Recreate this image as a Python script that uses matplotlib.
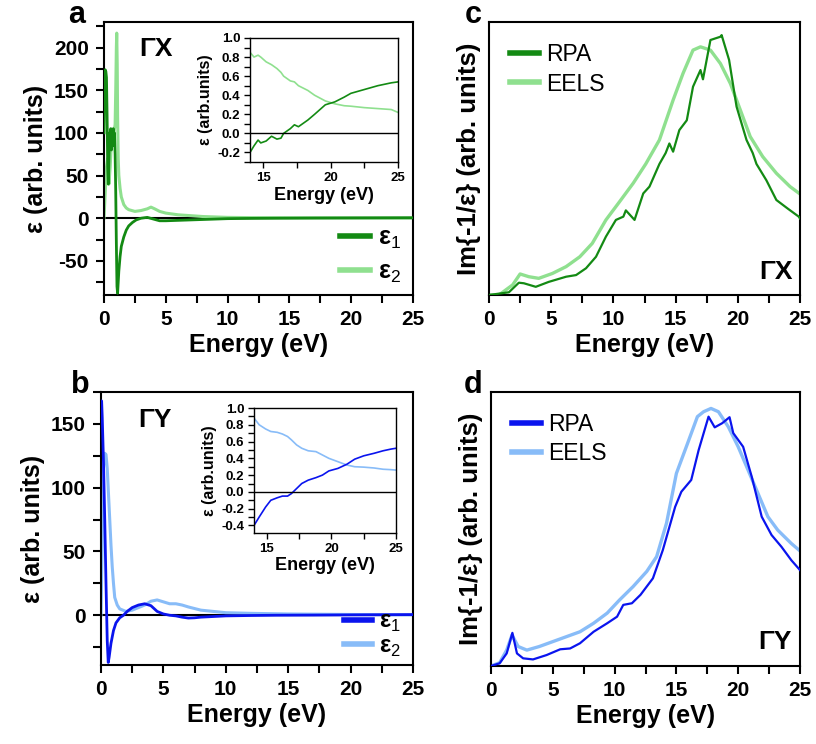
import numpy as np
import matplotlib
matplotlib.use("Agg")
import matplotlib.pyplot as plt
from matplotlib.ticker import MultipleLocator, NullLocator, FormatStrFormatter

plt.rcParams['font.family'] = ['Liberation Sans', 'DejaVu Sans']
plt.rcParams['mathtext.fontset'] = 'custom'
plt.rcParams['mathtext.rm'] = 'Liberation Sans'
plt.rcParams['mathtext.bf'] = 'Liberation Sans:bold'
plt.rcParams['axes.unicode_minus'] = False

# ---------------- data ----------------
# Panel a (Gamma-X) dielectric function
a_e1_x = [0, 0.05, 0.1, 0.15, 0.2, 0.25, 0.3, 0.35, 0.4, 0.45, 0.5, 0.55, 0.6, 0.65, 0.7, 0.75,
          0.8, 0.85, 0.9, 0.95, 1.0, 1.05, 1.1, 1.15, 1.2, 1.3, 1.4, 1.6, 1.8, 2.0, 2.3, 2.6,
          3.0, 3.5, 4.0, 4.5, 5, 6, 7, 8, 9, 10, 12, 14, 17, 20, 25]
a_e1_y = [100, 165, 174, 172, 165, 120, 60, 40, 70, 100, 85, 105, 80, 100, 90, 105,
          85, 100, 75, 30, -30, -80, -88, -75, -62, -45, -33, -22, -14, -9, -5, -2,
          0, 1, -1, -3, -3, -2.5, -2, -1.5, -1, -0.5, -0.2, 0, 0.2, 0.33, 0.54]
a_e2_x = [0, 0.1, 0.2, 0.3, 0.4, 0.5, 0.6, 0.7, 0.8, 0.9, 0.95, 1.0, 1.03, 1.07, 1.1, 1.15,
          1.2, 1.3, 1.4, 1.6, 1.8, 2.0, 2.5, 3.0, 3.5, 3.8, 4.1, 4.5, 5, 6, 7, 8, 10, 12, 15, 20, 25]
a_e2_y = [0, 30, 60, 70, 40, 60, 90, 95, 100, 110, 150, 200, 217, 180, 120, 70,
          50, 35, 25, 16, 12, 10, 8, 9, 11, 13, 11, 8, 6, 4, 3, 2, 1, 0.7, 0.5, 0.35, 0.22]

# inset a
ai_x = [14, 14.3, 14.6, 14.8, 15.2, 15.6, 16.0, 16.3, 16.5, 17.0, 17.3, 17.6, 18.3, 18.8,
        19.6, 20.3, 21.0, 21.5, 22.5, 23.5, 24.5, 25]
ai_e1 = [-0.2, -0.13, -0.07, -0.1, -0.08, -0.03, -0.06, -0.05, 0.0, 0.05, 0.09, 0.07, 0.14, 0.2,
         0.3, 0.33, 0.38, 0.42, 0.46, 0.5, 0.53, 0.54]
ai_e2 = [0.85, 0.8, 0.82, 0.8, 0.75, 0.72, 0.68, 0.64, 0.6, 0.55, 0.54, 0.5, 0.45, 0.4,
         0.34, 0.31, 0.29, 0.285, 0.27, 0.26, 0.25, 0.22]

# Panel b (Gamma-Y)
b_e1_x = [0, 0.05, 0.1, 0.2, 0.3, 0.4, 0.5, 0.58, 0.65, 0.8, 1.0, 1.2, 1.5, 1.8, 2.1, 2.5,
          3.0, 3.5, 4.0, 4.5, 5.0, 5.5, 6.0, 6.5, 7.0, 7.5, 8, 9, 10, 12, 14, 17, 20, 25]
b_e1_y = [160, 168, 155, 120, 75, 25, -20, -37, -33, -22, -12, -6, -2, 0, 3, 6,
          8, 9, 7.5, 3, 1, 0, -0.5, -1.5, -2.2, -2, -1.5, -1, -0.5, -0.2, 0, 0.1, 0.27, 0.52]
b_e2_x = [0, 0.1, 0.2, 0.3, 0.4, 0.5, 0.6, 0.7, 0.8, 0.9, 1.0, 1.1, 1.3, 1.5, 2.0, 2.5,
          3.0, 3.5, 4.0, 4.5, 5.0, 5.5, 6.0, 6.5, 7.0, 8, 9, 10, 12, 15, 20, 25]
b_e2_y = [0, 60, 115, 127, 126, 115, 95, 75, 55, 38, 25, 14, 8, 5, 3, 4,
          6, 8, 11, 12, 10.5, 9, 9, 8, 6.5, 4, 3, 2, 1.5, 1, 0.6, 0.26]

# inset b
bi_x = [14, 14.4, 14.9, 15.3, 15.8, 16.2, 16.6, 16.9, 17.3, 17.7, 18.2, 18.8, 19.3, 19.8,
        20.5, 21.2, 21.8, 22.5, 23.3, 24.0, 24.6, 25]
bi_e1 = [-0.4, -0.3, -0.18, -0.1, -0.07, -0.05, -0.05, -0.02, 0.04, 0.1, 0.14, 0.17, 0.2, 0.25,
         0.28, 0.33, 0.39, 0.43, 0.46, 0.49, 0.51, 0.52]
bi_e2 = [0.88, 0.8, 0.75, 0.72, 0.71, 0.69, 0.66, 0.62, 0.56, 0.52, 0.49, 0.48, 0.44, 0.4,
         0.36, 0.32, 0.3, 0.295, 0.285, 0.27, 0.265, 0.26]

# Panel c (Gamma-X) loss function
c_rpa_x = [0, 1.6, 2.4, 2.8, 3.76, 4.8, 6.2, 7.0, 7.8, 8.6, 9.4, 10.2, 10.8, 11.0, 11.7, 12.4,
           12.9, 13.7, 14.2, 14.5, 14.8, 15.3, 15.9, 16.4, 17.0, 17.2, 17.8, 18.6, 18.7, 19.3,
           19.9, 20.7, 21.2, 21.5, 22.3, 23.1, 24.0, 24.9, 25.0]
c_rpa_y = [0, 0.01, 0.045, 0.043, 0.03, 0.048, 0.067, 0.073, 0.098, 0.14, 0.214, 0.275, 0.287,
           0.31, 0.275, 0.372, 0.397, 0.48, 0.52, 0.555, 0.525, 0.604, 0.64, 0.763, 0.824, 0.79,
           0.934, 0.946, 0.952, 0.861, 0.69, 0.568, 0.52, 0.48, 0.42, 0.348, 0.317, 0.287, 0.28]
c_eels_x = [0, 0.8, 1.9, 2.5, 3.2, 4.0, 5.1, 6.2, 7.3, 8.3, 9.4, 10.5, 11.6, 12.6, 13.7, 14.8,
            15.6, 16.4, 17.0, 17.8, 18.6, 19.4, 20.2, 21.0, 22.0, 23.1, 24.2, 25.0]
c_eels_y = [0, 0, 0.037, 0.077, 0.067, 0.061, 0.079, 0.104, 0.14, 0.189, 0.275, 0.342, 0.41,
            0.48, 0.568, 0.714, 0.812, 0.897, 0.909, 0.897, 0.848, 0.775, 0.678, 0.58, 0.507,
            0.446, 0.397, 0.37]

# Panel d (Gamma-Y) loss function
d_rpa_x = [0, 0.7, 1.27, 1.73, 2.1, 2.6, 3.4, 4.5, 5.6, 6.4, 7.2, 8.3, 9.4, 10.2, 10.7, 11.4,
           12.1, 13.1, 13.9, 14.9, 15.4, 16.2, 16.8, 17.6, 18.1, 18.7, 19.3, 19.6, 20.4, 21.1,
           21.9, 22.7, 23.5, 24.3, 25.0]
d_rpa_y = [0, 0.01, 0.046, 0.121, 0.046, 0.028, 0.024, 0.04, 0.061, 0.064, 0.083, 0.125, 0.156,
           0.18, 0.223, 0.229, 0.26, 0.32, 0.423, 0.581, 0.636, 0.679, 0.788, 0.91, 0.871, 0.886,
           0.908, 0.85, 0.8, 0.69, 0.545, 0.478, 0.435, 0.386, 0.35]
d_eels_x = [0, 0.7, 1.27, 1.7, 2.2, 2.9, 3.9, 5.0, 6.1, 7.2, 8.3, 9.4, 10.4, 11.5, 12.6, 13.4,
            14.2, 15.0, 15.9, 16.7, 17.2, 17.8, 18.4, 19.2, 20.0, 20.8, 21.6, 22.4, 23.2, 24.3, 25.0]
d_eels_y = [0, 0.012, 0.058, 0.113, 0.071, 0.058, 0.071, 0.089, 0.107, 0.125, 0.156, 0.193,
            0.241, 0.29, 0.345, 0.399, 0.521, 0.703, 0.812, 0.91, 0.928, 0.94, 0.928, 0.873,
            0.8, 0.715, 0.63, 0.545, 0.496, 0.447, 0.42]

# ---------------- style ----------------
DG = '#138a13'
LG = '#8fe08f'
DB = '#0a14ee'
LB = '#88bcf8'

W, H = 816, 744
fig = plt.figure(figsize=(W / 100, H / 100), dpi=100)


def ax_px(l, r, t, b):
    return fig.add_axes([l / W, 1 - b / H, (r - l) / W, (b - t) / H])


def style_main(ax, yticks=True):
    for s in ax.spines.values():
        s.set_linewidth(1.5)
    ax.set_xlim(0, 25)
    ax.xaxis.set_major_locator(MultipleLocator(5))
    ax.xaxis.set_minor_locator(MultipleLocator(2.5))
    ax.tick_params(which='major', direction='out', length=6, width=1.5,
                   labelsize=15, top=False, right=False, pad=5)
    ax.tick_params(which='minor', direction='out', length=6, width=1.5, top=False, right=False)
    for lab in ax.get_xticklabels() + ax.get_yticklabels():
        lab.set_fontweight('bold')
    ax.set_xlabel('Energy (eV)', fontsize=18, fontweight='bold', labelpad=3)
    if not yticks:
        ax.yaxis.set_major_locator(NullLocator())
        ax.yaxis.set_minor_locator(NullLocator())


def style_inset(ax, ymin, ytop, yfirst):
    for s in ax.spines.values():
        s.set_linewidth(1.0)
    ax.set_xlim(14, 25)
    ax.set_ylim(ymin, ytop)
    ax.set_xticks([15, 20, 25])
    ax.xaxis.set_minor_locator(MultipleLocator(2.5))
    ax.set_yticks(np.round(np.arange(yfirst, 1.01, 0.2), 1))
    ax.yaxis.set_minor_locator(MultipleLocator(0.1))
    ax.tick_params(which='both', direction='out', length=4, width=1.0,
                   labelsize=9.5, top=False, right=False, pad=3)
    ax.yaxis.set_major_formatter(FormatStrFormatter('%.1f'))
    for lab in ax.get_xticklabels() + ax.get_yticklabels():
        lab.set_fontweight('bold')
    ax.axhline(0, color='black', lw=1.0)
    ax.set_xlabel('Energy (eV)', fontsize=13, fontweight='bold', labelpad=2)
    ax.set_ylabel('ε (arb.units)', fontsize=11.5, fontweight='bold', labelpad=3)


# ---- panel a ----
ax_a = ax_px(104, 413, 22, 295)
ax_a.axhline(0, color='black', lw=1.5, zorder=1)
ax_a.plot(a_e2_x, a_e2_y, color=LG, lw=2.2, label='ε$_2$', zorder=2)
ax_a.plot(a_e1_x, a_e1_y, color=DG, lw=2.0, label='ε$_1$', zorder=3)
ax_a.set_ylim(-90, 230)
ax_a.yaxis.set_major_locator(MultipleLocator(50))
ax_a.yaxis.set_minor_locator(MultipleLocator(25))
style_main(ax_a)
ax_a.set_ylabel('ε (arb. units)', fontsize=18, fontweight='bold', labelpad=4)
h, l = ax_a.get_legend_handles_labels()
leg = ax_a.legend([h[1], h[0]], [l[1], l[0]], loc='lower right', frameon=False,
                  handlelength=1.2, handletextpad=0.3, labelspacing=0.35,
                  borderaxespad=0.1, bbox_to_anchor=(1.0, -0.01),
                  prop={'weight': 'bold', 'size': 18})
for lh in leg.get_lines():
    lh.set_linewidth(4)
ax_a.text(0.115, 0.90, 'ΓX', transform=ax_a.transAxes, fontsize=19, fontweight='bold',
          ha='left', va='center')
fig.text(77 / W, 1 - 15 / H, 'a', fontsize=22, fontweight='bold', ha='center', va='center')

ins_a = ax_px(250, 398, 38, 162)
ins_a.plot(ai_x, ai_e2, color=LG, lw=1.2)
ins_a.plot(ai_x, ai_e1, color=DG, lw=1.2)
style_inset(ins_a, -0.3, 1.0, -0.2)

# ---- panel b ----
ax_b = ax_px(101, 413, 392, 665)
ax_b.axhline(0, color='black', lw=1.5, zorder=1)
ax_b.plot(b_e2_x, b_e2_y, color=LB, lw=2.2, label='ε$_2$', zorder=2)
ax_b.plot(b_e1_x, b_e1_y, color=DB, lw=2.0, label='ε$_1$', zorder=3)
ax_b.set_ylim(-39, 175)
ax_b.yaxis.set_major_locator(MultipleLocator(50))
ax_b.yaxis.set_minor_locator(MultipleLocator(25))
style_main(ax_b)
ax_b.set_ylabel('ε (arb. units)', fontsize=18, fontweight='bold', labelpad=4)
h, l = ax_b.get_legend_handles_labels()
leg = ax_b.legend([h[1], h[0]], [l[1], l[0]], loc='lower right', frameon=False,
                  handlelength=1.2, handletextpad=0.3, labelspacing=0.02,
                  borderaxespad=0.1, bbox_to_anchor=(1.0, -0.02),
                  prop={'weight': 'bold', 'size': 17})
for lh in leg.get_lines():
    lh.set_linewidth(4)
ax_b.text(0.119, 0.897, 'ΓY', transform=ax_b.transAxes, fontsize=19, fontweight='bold',
          ha='left', va='center')
fig.text(80 / W, 1 - 385 / H, 'b', fontsize=22, fontweight='bold', ha='center', va='center')

ins_b = ax_px(254, 396, 408, 533)
ins_b.plot(bi_x, bi_e2, color=LB, lw=1.2)
ins_b.plot(bi_x, bi_e1, color=DB, lw=1.2)
style_inset(ins_b, -0.49, 1.0, -0.4)

# ---- panel c ----
ax_c = ax_px(489, 800, 22, 295)
ax_c.plot(c_eels_x, c_eels_y, color=LG, lw=2.4, label='EELS', zorder=2)
ax_c.plot(c_rpa_x, c_rpa_y, color=DG, lw=1.6, label='RPA', zorder=3)
ax_c.set_ylim(0, 1)
style_main(ax_c, yticks=False)
ax_c.set_ylabel('Im{-1/ε} (arb. units)', fontsize=18.5, fontweight='bold', labelpad=6)
h, l = ax_c.get_legend_handles_labels()
leg = ax_c.legend([h[1], h[0]], [l[1], l[0]], loc='upper left', frameon=False,
                  handlelength=1.3, handletextpad=0.3, labelspacing=0.3,
                  borderaxespad=0.5, prop={'size': 16.5})
for lh in leg.get_lines():
    lh.set_linewidth(4)
ax_c.text(0.977, 0.084, 'ΓX', transform=ax_c.transAxes, fontsize=19, fontweight='bold',
          ha='right', va='center')
fig.text(473 / W, 1 - 15 / H, 'c', fontsize=22, fontweight='bold', ha='center', va='center')

# ---- panel d ----
ax_d = ax_px(491, 800, 392, 666)
ax_d.plot(d_eels_x, d_eels_y, color=LB, lw=2.4, label='EELS', zorder=2)
ax_d.plot(d_rpa_x, d_rpa_y, color=DB, lw=1.6, label='RPA', zorder=3)
ax_d.set_ylim(0, 1)
style_main(ax_d, yticks=False)
ax_d.set_ylabel('Im{-1/ε} (arb. units)', fontsize=18.5, fontweight='bold', labelpad=6)
h, l = ax_d.get_legend_handles_labels()
leg = ax_d.legend([h[1], h[0]], [l[1], l[0]], loc='upper left', frameon=False,
                  handlelength=1.3, handletextpad=0.3, labelspacing=0.3,
                  borderaxespad=0.5, prop={'size': 16.5})
for lh in leg.get_lines():
    lh.set_linewidth(4)
ax_d.text(0.972, 0.088, 'ΓY', transform=ax_d.transAxes, fontsize=19, fontweight='bold',
          ha='right', va='center')
fig.text(473 / W, 1 - 385 / H, 'd', fontsize=22, fontweight='bold', ha='center', va='center')

fig.savefig('out.png', dpi=100)
